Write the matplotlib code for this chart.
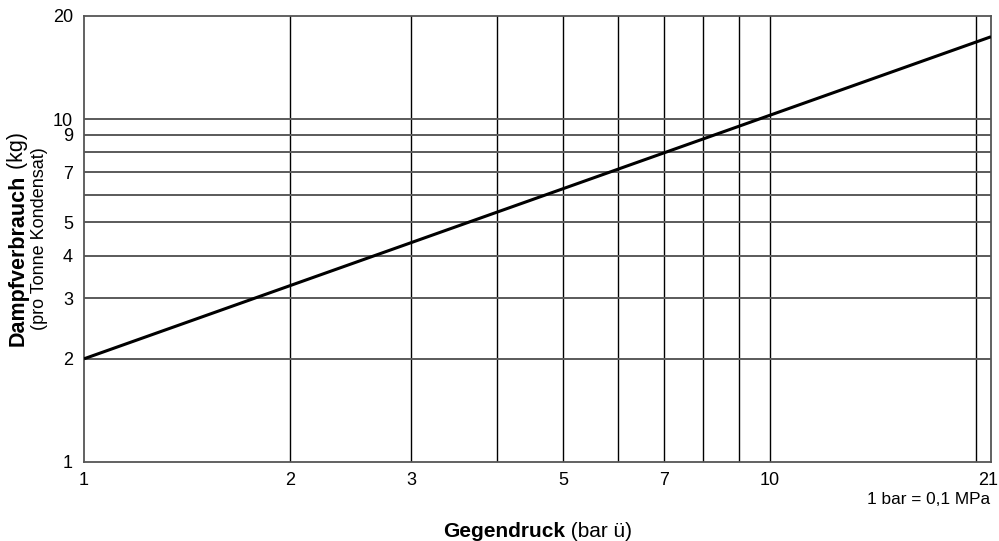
import matplotlib
matplotlib.use("Agg")
import matplotlib.pyplot as plt
import matplotlib.transforms as mtransforms

plt.rcParams['font.family'] = ['Liberation Sans', 'DejaVu Sans']

# Data
line_x = [1, 21]
line_y = [2.0, 17.4]
x_grid = [2, 3, 4, 5, 6, 7, 8, 9, 10, 20]
y_grid = [2, 3, 4, 5, 6, 7, 8, 9, 10]
x_ticks = [1, 2, 3, 5, 7, 10, 21]
x_ticklabels = ['1', '2', '3', '5', '7', '10', '21']
y_ticks = [1, 2, 3, 4, 5, 7, 9, 10, 20]
y_ticklabels = ['1', '2', '3', '4', '5', '7', '9', '10', '20']

W, H = 999, 541
fig = plt.figure(figsize=(W / 100, H / 100), dpi=100)
ax = fig.add_axes([84 / W, 1 - 462 / H, (991 - 84) / W, (462 - 16) / H])
ax.set_xscale('log')
ax.set_yscale('log')
ax.set_xlim(1, 21)
ax.set_ylim(1, 20)

for xv in x_grid:
    ax.axvline(xv, color='black', lw=1.0, zorder=1)
for yv in y_grid:
    ax.axhline(yv, color='#5a5a5a', lw=1.4, zorder=1)

ax.plot(line_x, line_y, color='black', lw=2.2, zorder=3, solid_capstyle='butt')

ax.xaxis.set_minor_locator(matplotlib.ticker.NullLocator())
ax.yaxis.set_minor_locator(matplotlib.ticker.NullLocator())
ax.set_xticks(x_ticks)
ax.set_xticklabels(x_ticklabels)
ax.set_yticks(y_ticks)
ax.set_yticklabels(y_ticklabels)
ax.tick_params(axis='both', length=0, labelsize=13, colors='black')
ax.tick_params(axis='x', pad=7)
ax.tick_params(axis='y', pad=8)
for s in ax.spines.values():
    s.set_color('#555555')
    s.set_linewidth(1.3)

# nudge last x label ("21") slightly left so it stays inside the figure
lbl = ax.get_xticklabels()[-1]
lbl.set_transform(lbl.get_transform() + mtransforms.ScaledTranslation(-3 / 100, 0, fig.dpi_scale_trans))

def fx(px):
    return px / W

def fy(py):
    return 1 - py / H

# X label
t1 = fig.text(fx(443), fy(537), 'Gegendruck', fontsize=15, fontweight='bold',
              ha='left', va='baseline')
ax.annotate(' (bar ü)', xy=(1, 0), xycoords=t1, fontsize=15, ha='left', va='bottom',
            annotation_clip=False)

# Y label
t2 = fig.text(fx(18), fy(346), 'Dampfverbrauch', fontsize=15.5, fontweight='bold',
              rotation=90, ha='center', va='bottom')
ax.annotate(' (kg)', xy=(0.5, 1), xycoords=t2, fontsize=15.5, rotation=90,
            ha='center', va='bottom', annotation_clip=False)
fig.text(fx(40), fy(239), '(pro Tonne Kondensat)', fontsize=13, rotation=90,
         ha='center', va='center')

# unit note
fig.text(fx(990), fy(500), '1 bar = 0,1 MPa', fontsize=12.4, ha='right', va='center')

fig.savefig('out.png', dpi=100)
